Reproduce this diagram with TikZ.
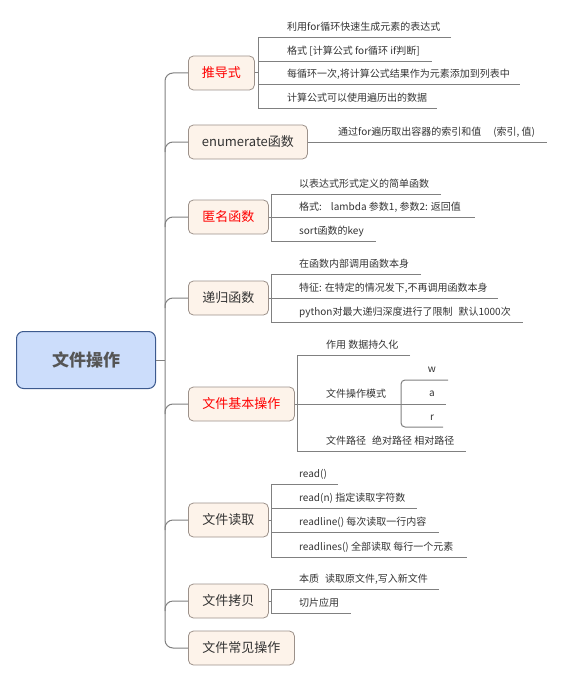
\documentclass[tikz,border=0pt]{standalone}
\usepackage{fontspec}
\setmainfont{Noto Sans CJK SC}
\usetikzlibrary{calc}
\definecolor{linegray}{HTML}{808080}
\definecolor{txt}{HTML}{333333}
\definecolor{roottxt}{HTML}{555555}
\definecolor{rootfill}{HTML}{CCDDFB}
\definecolor{rootdraw}{HTML}{3D5A8E}
\definecolor{kidfill}{HTML}{FDF3EA}
\definecolor{kiddraw}{HTML}{9C918A}
\definecolor{kidred}{HTML}{FF0000}
\tikzset{
  conn/.style={draw=linegray, line width=1pt},
  rootbox/.style={draw=rootdraw, fill=rootfill, rounded corners=7pt, line width=1pt,
    minimum width=139pt, minimum height=57pt, inner sep=0pt,
    font=\fontsize{17}{20}\selectfont\bfseries, text=roottxt, anchor=west},
  kidbox/.style={draw=kiddraw, fill=kidfill, rounded corners=5pt, line width=0.8pt,
    minimum height=34pt, inner sep=0pt, font=\fontsize{13}{16}\selectfont, text=txt, anchor=west},
  redtxt/.style={text=kidred},
  leaf/.style={anchor=base west, inner sep=0pt, font=\fontsize{10}{12}\selectfont, text=txt},
  modeleaf/.style={anchor=base, inner sep=0pt, font=\fontsize{10}{12}\selectfont, text=txt},
}
\begin{document}
\begin{tikzpicture}[x=1pt,y=-1pt]
\useasboundingbox (0,0) rectangle (563,682);

% root and children
\node[rootbox] (root) at (16,360) {文件操作};
\node[kidbox, redtxt, minimum width=66pt] (c1) at (188,73) {推导式};
\node[kidbox, minimum width=119pt] (c2) at (188,142) {enumerate函数};
\node[kidbox, redtxt, minimum width=80pt] (c3) at (188,217) {匿名函数};
\node[kidbox, minimum width=80pt] (c4) at (188,298) {递归函数};
\node[kidbox, redtxt, minimum width=106pt] (c5) at (188,404) {文件基本操作};
\node[kidbox, minimum width=80pt] (c6) at (188,520) {文件读取};
\node[kidbox, minimum width=80pt] (c7) at (188,601) {文件拷贝};
\node[kidbox, minimum width=106pt] (c8) at (188,648) {文件常见操作};

% spine
\coordinate (sp) at (165,0);
\draw[conn] (root.east) -- (root.east -| sp);
\draw[conn, rounded corners=8pt] (c1.west) -- (c1.west -| sp) -- (c8.west -| sp) -- (c8.west);
\foreach \c in {c2,c3,c4,c5,c6,c7}{
  \draw[conn, rounded corners=8pt] ($(\c.west -| sp)+(0,10)$) -- (\c.west -| sp) -- (\c.west);
}

% branch 1: 推导式
\coordinate (b1) at (258,0);
\draw[conn] (c1.east) -- (c1.east -| b1);
\draw[conn] (451,38) -- (258,38) -- (258,109) -- (437,109);
\draw[conn] (258,62) -- (432,62);
\draw[conn] (258,85) -- (520,85);
\node[leaf] (t11) at (287,31) {利用for循环快速生成元素的表达式};
\node[leaf] (t12) at (287,55) {格式 [计算公式 for循环 if判断]};
\node[leaf] (t13) at (287,78) {每循环一次,将计算公式结果作为元素添加到列表中};
\node[leaf] (t14) at (287,102) {计算公式可以使用遍历出的数据};

% branch 2: enumerate
\coordinate (e2) at (547,0);
\draw[conn] (c2.east) -- (c2.east -| e2);
\node[leaf] (t21) at (338,135.5) {通过for遍历取出容器的索引和值\hspace{12pt}(索引, 值)};

% branch 3: 匿名函数
\coordinate (b3) at (271,0);
\draw[conn] (c3.east) -- (c3.east -| b3);
\draw[conn] (441,194) -- (271,194) -- (271,241) -- (376,241);
\draw[conn] (271,217) -- (475,217);
\node[leaf] (t31) at (299,187) {以表达式形式定义的简单函数};
\node[leaf] (t32) at (299,210) {格式:\hspace{9pt}lambda 参数1, 参数2: 返回值};
\node[leaf] (t33) at (299,234) {sort函数的key};

% branch 4: 递归函数
\coordinate (b4) at (271,0);
\draw[conn] (c4.east) -- (c4.east -| b4);
\draw[conn] (421,274) -- (271,274) -- (271,322) -- (523,322);
\draw[conn] (271,298) -- (498,298);
\node[leaf] (t41) at (299,267) {在函数内部调用函数本身};
\node[leaf] (t42) at (299,291) {特征: 在特定的情况发下,不再调用函数本身};
\node[leaf] (t43) at (299,315) {python对最大递归深度进行了限制\hspace{6pt}默认1000次};

% branch 5: 文件基本操作
\coordinate (b5) at (297,0);
\coordinate (e5) at (446,0);
\draw[conn] (410,355) -- (297,355) -- (297,451) -- (466,451);
\draw[conn] (c5.east) -- (c5.east -| e5);
\node[leaf] (t51) at (326,348) {作用 数据持久化};
\node[leaf] (t52) at (326,397) {文件操作模式};
\node[leaf] (t53) at (326,444.5) {文件路径\hspace{6pt}绝对路径 相对路径};
\draw[conn, rounded corners=4pt] (448,380) -- (401,380) -- (401,427) -- (443,427);
\node[modeleaf] (m1) at (432,372.5) {w};
\node[modeleaf] (m2) at (432,396.5) {a};
\node[modeleaf] (m3) at (432,420.5) {r};

% branch 6: 文件读取
\coordinate (b6) at (271,0);
\draw[conn] (c6.east) -- (c6.east -| b6);
\draw[conn] (338,484) -- (271,484) -- (271,557) -- (467,557);
\draw[conn] (271,508) -- (417,508);
\draw[conn] (271,532) -- (439,532);
\node[leaf] (t61) at (299,477) {read()};
\node[leaf] (t62) at (299,501) {read(n) 指定读取字符数};
\node[leaf] (t63) at (299,525) {readline() 每次读取一行内容};
\node[leaf] (t64) at (299,550) {readlines() 全部读取 每行一个元素};

% branch 7: 文件拷贝
\coordinate (b7) at (271,0);
\draw[conn] (c7.east) -- (c7.east -| b7);
\draw[conn] (439,589) -- (271,589) -- (271,613) -- (351,613);
\node[leaf] (t71) at (299,582) {本质\hspace{6pt}读取原文件,写入新文件};
\node[leaf] (t72) at (299,606) {切片应用};
\end{tikzpicture}
\end{document}
